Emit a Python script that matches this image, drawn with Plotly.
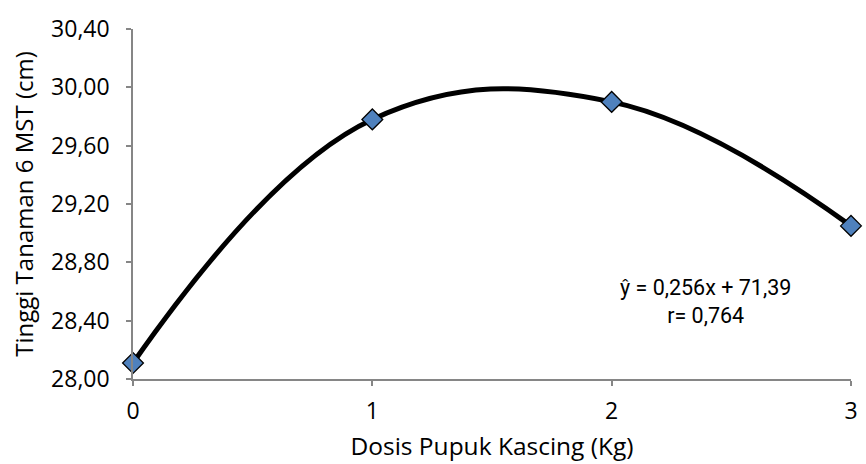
import plotly.graph_objects as go

dosis = [0, 1, 2, 3]
tinggi = [28.11, 29.78, 29.90, 29.05]
y_ticks = [28.00, 28.40, 28.80, 29.20, 29.60, 30.00, 30.40]
x_ticks = [0, 1, 2, 3]

FONT = "Open Sans"
fig = go.Figure()
fig.add_trace(go.Scatter(
    x=dosis, y=tinggi, mode="lines+markers",
    line=dict(color="black", width=5, shape="spline", smoothing=1.15),
    marker=dict(symbol="diamond", size=16, color="#4F81BD",
                line=dict(color="black", width=1.3)),
    cliponaxis=False, showlegend=False))

fig.add_annotation(x=2.39, y=28.53, xref="x", yref="y",
                   text="ŷ = 0,256x + 71,39<br>r= 0,764", showarrow=False,
                   font=dict(family="Roboto", size=21.5, color="black"), align="center")

axis_common = dict(showline=True, linecolor="#868686", linewidth=1.5,
                   ticks="outside", tickcolor="#868686", ticklen=5, tickwidth=1.5,
                   showgrid=False, zeroline=False,
                   tickfont=dict(family=FONT, size=23, color="black"))
fig.update_xaxes(range=[0, 3], tickvals=x_ticks, ticktext=[str(v) for v in x_ticks],
                 ticklabelstandoff=6,
                 title=dict(text="Dosis Pupuk Kascing (Kg)", font=dict(family=FONT, size=24.5, color="black"), standoff=13),
                 **axis_common)
fig.update_yaxes(range=[28.0, 30.4], tickvals=y_ticks, tickformat=".2f",
                 ticklabelstandoff=12,
                 title=dict(text="Tinggi Tanaman 6 MST (cm)", font=dict(family=FONT, size=24, color="black"), standoff=11),
                 **axis_common)
fig.update_layout(width=866, height=464, separators=",.",
                  margin=dict(l=133, r=8, t=29, b=85),
                  plot_bgcolor="white", paper_bgcolor="white")
fig.write_html("out.html")
